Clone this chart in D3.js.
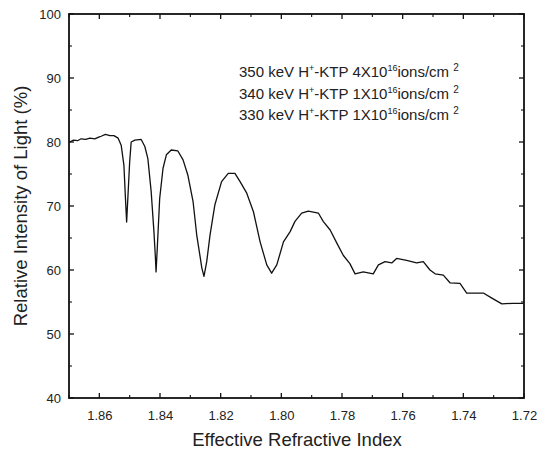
<!DOCTYPE html>
<html><head><meta charset="utf-8">
<script src="https://cdn.jsdelivr.net/npm/d3@7"></script>
<style>body{margin:0;background:#fff}svg{display:block}text{font-family:"Liberation Sans",Arial,sans-serif}</style>
</head><body><div id="chart"></div>
<script>
// Data
const refIndex = [1.8698,1.8685,1.8672,1.8660,1.8645,1.8631,1.8615,1.8600,1.8594,1.8580,1.8565,1.8552,1.8538,1.8528,1.8519,1.8514,1.8510,1.8505,1.8500,1.8495,1.8483,1.8462,1.8450,1.8440,1.8429,1.8420,1.8415,1.8413,1.8409,1.8401,1.8390,1.8379,1.8363,1.8341,1.8324,1.8308,1.8291,1.8279,1.8262,1.8255,1.8246,1.8235,1.8219,1.8197,1.8175,1.8153,1.8136,1.8114,1.8092,1.8070,1.8048,1.8032,1.8015,1.7993,1.7971,1.7955,1.7933,1.7911,1.7878,1.7862,1.7839,1.7817,1.7796,1.7774,1.7757,1.7730,1.7697,1.7680,1.7658,1.7636,1.7620,1.7587,1.7554,1.7532,1.7510,1.7493,1.7466,1.7444,1.7411,1.7389,1.7334,1.7306,1.7273,1.7239,1.7202];
const intensity = [80.0,80.3,80.2,80.5,80.4,80.6,80.5,80.8,80.9,81.2,81.0,81.0,80.6,79.5,76.4,71.3,67.5,72.2,76.9,80.0,80.3,80.4,79.3,77.4,72.2,66.0,61.8,59.7,63.4,71.2,75.9,78.0,78.75,78.6,77.2,74.8,70.7,65.5,60.3,59.0,61.3,65.5,70.2,73.8,75.1,75.1,73.8,72.0,69.1,64.4,60.8,59.5,60.8,64.4,66.0,67.6,68.9,69.2,68.9,67.6,66.25,64.2,62.3,61.0,59.4,59.7,59.4,60.8,61.3,61.1,61.8,61.5,61.1,61.3,60.0,59.4,59.2,58.0,57.9,56.4,56.4,55.6,54.7,54.8,54.8];
const xTickValues = [1.86,1.84,1.82,1.80,1.78,1.76,1.74,1.72];
const yTickValues = [40,50,60,70,80,90,100];
const legendLines = [
  {energy:"350 keV H", coef:"4X10", exp:"16"},
  {energy:"340 keV H", coef:"1X10", exp:"16"},
  {energy:"330 keV H", coef:"1X10", exp:"16"}
];

const W = 537, H = 453;
const m = {left:69, right:13, top:14, bottom:55};
const svg = d3.select("#chart").append("svg").attr("width",W).attr("height",H);
const x = d3.scaleLinear().domain([1.87,1.72]).range([m.left, W-m.right]);
const y = d3.scaleLinear().domain([40,100]).range([H-m.bottom, m.top]);
const pw = W-m.right-m.left, ph = H-m.bottom-m.top;

const minorX = d3.range(1.87,1.7199,-0.01).map(v=>+v.toFixed(2)).filter(v=>!xTickValues.includes(v));
const minorY = [45,55,65,75,85,95];

function drawAxes(){
  const g = svg.append("g").attr("fill","none").attr("stroke","#111");
  xTickValues.forEach(v=>{
    g.append("line").attr("x1",x(v)).attr("x2",x(v)).attr("y1",y(40)).attr("y2",y(40)-5).attr("stroke-width",1.3);
    g.append("line").attr("x1",x(v)).attr("x2",x(v)).attr("y1",y(100)).attr("y2",y(100)+5).attr("stroke-width",1.3);
  });
  minorX.forEach(v=>{
    g.append("line").attr("x1",x(v)).attr("x2",x(v)).attr("y1",y(40)).attr("y2",y(40)-3).attr("stroke-width",1.1);
    g.append("line").attr("x1",x(v)).attr("x2",x(v)).attr("y1",y(100)).attr("y2",y(100)+3).attr("stroke-width",1.1);
  });
  yTickValues.forEach(v=>{
    g.append("line").attr("x1",x(1.87)).attr("x2",x(1.87)+5).attr("y1",y(v)).attr("y2",y(v)).attr("stroke-width",1.3);
    g.append("line").attr("x1",x(1.72)).attr("x2",x(1.72)-5).attr("y1",y(v)).attr("y2",y(v)).attr("stroke-width",1.3);
  });
  minorY.forEach(v=>{
    g.append("line").attr("x1",x(1.87)).attr("x2",x(1.87)+3).attr("y1",y(v)).attr("y2",y(v)).attr("stroke-width",1.1);
    g.append("line").attr("x1",x(1.72)).attr("x2",x(1.72)-3).attr("y1",y(v)).attr("y2",y(v)).attr("stroke-width",1.1);
  });
  svg.append("rect").attr("x",m.left).attr("y",m.top).attr("width",pw).attr("height",ph)
    .attr("fill","none").attr("stroke","#111").attr("stroke-width",1.8);
}

const line = d3.line().x((d,i)=>x(refIndex[i])).y((d,i)=>y(intensity[i]));
svg.append("path").datum(intensity).attr("d",line).attr("fill","none")
  .attr("stroke","#111").attr("stroke-width",1.3).attr("stroke-linejoin","round");

drawAxes();

const xAxis = d3.axisBottom(x).tickValues(xTickValues).tickSize(0).tickPadding(13).tickFormat(d3.format(".2f"));
const gx = svg.append("g").attr("transform",`translate(0,${y(40)})`).call(xAxis);
const yAxis = d3.axisLeft(y).tickValues(yTickValues).tickSize(0).tickPadding(8).tickFormat(d3.format("d"));
const gy = svg.append("g").attr("transform",`translate(${x(1.87)},0)`).call(yAxis);
[gx,gy].forEach(g=>{g.select(".domain").remove();g.selectAll("text").attr("font-size",13).attr("fill","#222").attr("font-family","'Liberation Sans',Arial,sans-serif");});

svg.append("text").attr("x",297).attr("y",446).attr("text-anchor","middle")
  .attr("font-size",18.5).attr("fill","#222").text("Effective Refractive Index");
svg.append("text").attr("transform",`translate(27,${(m.top+H-m.bottom)/2}) rotate(-90)`).attr("text-anchor","middle")
  .attr("font-size",18.5).attr("fill","#222").text("Relative Intensity of Light (%)");

const lg = svg.append("g");
legendLines.forEach((d,i)=>{
  const t = lg.append("text").attr("x",239).attr("y",77+i*21.5).attr("font-size",15).attr("fill","#222");
  t.append("tspan").text(d.energy);
  t.append("tspan").attr("dy",-6).attr("font-size",9).text("+");
  t.append("tspan").attr("dy",6).text("-KTP "+d.coef);
  t.append("tspan").attr("dy",-6).attr("font-size",9).text(d.exp);
  t.append("tspan").attr("dy",6).text("ions/cm ");
  t.append("tspan").attr("dy",-6).attr("font-size",10).text(" 2");
});
</script></body></html>
